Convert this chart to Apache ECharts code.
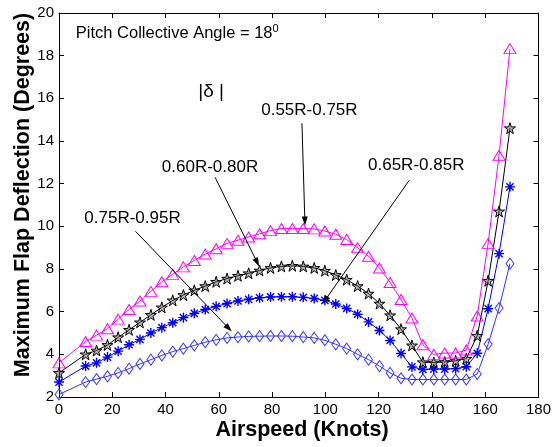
<!DOCTYPE html>
<html>
<head>
<meta charset="utf-8">
<script src="https://cdn.jsdelivr.net/npm/echarts@6/dist/echarts.min.js"></script>
<style>
  html, body { margin: 0; padding: 0; background: #fff; }
  #chart { width: 554px; height: 447px; }
</style>
</head>
<body>
<div id="chart"></div>
<script>
// Airspeed samples (knots)
const airspeed = [0, 10, 14.1, 18.2, 22.2, 26.3, 30.4, 34.5, 38.6, 42.7, 46.7, 50.8, 54.9, 59.0, 63.1, 67.2, 71.2, 75.3, 79.4,
  83.5, 87.6, 91.7, 95.8, 99.8, 103.9, 108.0, 112.1, 116.2, 120.3, 124.3, 128.4, 132.5, 136.6, 140.7, 144.8, 148.9, 152.9,
  157.0, 161.1, 165.2, 169.3];

// Maximum flap deflection |delta| (degrees) for each flap span location
const flap055_075 = [3.6, 4.6, 4.9, 5.2, 5.65, 6.1, 6.5, 6.95, 7.4, 7.75, 8.1, 8.4, 8.7, 8.95, 9.2, 9.35, 9.5, 9.65, 9.8,
  9.9, 9.9, 9.9, 9.88, 9.78, 9.63, 9.38, 9.0, 8.6, 8.05, 7.37, 6.57, 5.7, 4.45, 4.0, 4.06, 4.06, 4.2, 5.8, 9.2, 13.33, 18.33];
const flap060_080 = [3.13, 4.0, 4.18, 4.44, 4.8, 5.15, 5.5, 5.85, 6.2, 6.53, 6.78, 7.0, 7.2, 7.4, 7.55, 7.68, 7.8, 7.93, 8.05,
  8.12, 8.15, 8.12, 8.05, 7.92, 7.72, 7.5, 7.2, 6.85, 6.38, 5.83, 5.18, 4.42, 3.63, 3.62, 3.64, 3.7, 3.8, 4.87, 7.45, 10.7, 14.6];
const flap065_085 = [2.7, 3.45, 3.6, 3.87, 4.15, 4.45, 4.7, 5.0, 5.25, 5.48, 5.72, 5.92, 6.1, 6.25, 6.38, 6.5, 6.58, 6.65, 6.69,
  6.7, 6.7, 6.67, 6.62, 6.53, 6.36, 6.15, 5.88, 5.52, 5.12, 4.65, 4.04, 3.41, 3.29, 3.31, 3.31, 3.33, 3.42, 4.05, 6.14, 8.72, 11.85];
const flap075_095 = [2.12, 2.7, 2.84, 2.97, 3.13, 3.33, 3.55, 3.75, 3.95, 4.13, 4.27, 4.42, 4.57, 4.68, 4.77, 4.81, 4.84, 4.85, 4.86,
  4.86, 4.85, 4.81, 4.77, 4.66, 4.47, 4.27, 4.0, 3.75, 3.45, 3.13, 2.88, 2.82, 2.82, 2.82, 2.82, 2.82, 2.82, 3.08, 4.48, 6.17, 8.25];

// Axis ticks
const xTicks = { min: 0, max: 180, step: 20 };
const yTicks = { min: 2, max: 20, step: 2 };

// Annotation labels, placed in data coordinates: [text, x, y]
const labelNotes = [
  ['0.55R-0.75R', 94.0, 15.44],
  ['0.60R-0.80R', 56.7, 12.77],
  ['0.65R-0.85R', 134.1, 12.86],
  ['0.75R-0.95R', 27.6, 10.38]
];
// Leader arrows: [x1, y1, x2 (tip), y2 (tip)]
const arrowNotes = [
  [91.2, 14.83, 92.3, 10.25],
  [58.6, 12.3, 74.4, 8.31],
  [131.5, 12.16, 99.85, 6.53],
  [28.7, 9.77, 63.7, 5.22]
];

const FONT = '"Liberation Sans", Arial, Helvetica, sans-serif';
const pair = arr => airspeed.map((x, i) => [x, arr[i]]);

const STAR = 'path://M0,-1L0.2245,-0.309L0.951,-0.309L0.363,0.118L0.588,0.809L0,0.382L-0.588,0.809L-0.363,0.118L-0.951,-0.309L-0.2245,-0.309Z';
const ASTER = 'path://M0,-1L0,1M-1,0L1,0M-0.72,-0.72L0.72,0.72M-0.72,0.72L0.72,-0.72';

function axisX(pos, showLabel) {
  return {
    type: 'value', position: pos, min: xTicks.min, max: xTicks.max, interval: xTicks.step,
    axisLine: { show: true, onZero: false, lineStyle: { color: '#000', width: 1 } },
    axisTick: { show: true, inside: true, length: 5, lineStyle: { color: '#000' } },
    axisLabel: { show: showLabel, color: '#000', fontSize: 15, fontFamily: FONT, margin: 5 },
    splitLine: { show: false }
  };
}
function axisY(pos, showLabel) {
  return {
    type: 'value', position: pos, min: yTicks.min, max: yTicks.max, interval: yTicks.step,
    axisLine: { show: true, onZero: false, lineStyle: { color: '#000', width: 1 } },
    axisTick: { show: true, inside: true, length: 5, lineStyle: { color: '#000' } },
    axisLabel: { show: showLabel, color: '#000', fontSize: 15, fontFamily: FONT, margin: 5 },
    splitLine: { show: false }
  };
}

function lineSeries(name, data, color, symbol, size, fill, bw) {
  return {
    name, type: 'line', data: pair(data), xAxisIndex: 0, yAxisIndex: 0,
    symbol, symbolSize: size, showAllSymbol: true,
    lineStyle: { color, width: 1 },
    itemStyle: { color: fill, borderColor: color, borderWidth: bw },
    emphasis: { disabled: true }
  };
}

const chart = echarts.init(document.getElementById('chart'), null, { renderer: 'canvas' });

const option = {
  animation: false,
  backgroundColor: '#fff',
  grid: { left: 59, top: 13, width: 489, height: 384, containLabel: false },
  xAxis: [axisX('bottom', true), axisX('top', false)],
  yAxis: [axisY('left', true), axisY('right', false)],
  series: [
    lineSeries('0.75R-0.95R', flap075_095, '#3434ff', 'diamond', [8, 11], 'rgba(0,0,0,0)', 1),
    lineSeries('0.65R-0.85R', flap065_085, '#0000ff', ASTER, 10, 'rgba(0,0,0,0)', 1.4),
    lineSeries('0.60R-0.80R', flap060_080, '#000000', STAR, 11, 'rgba(90,90,90,0.45)', 1),
    Object.assign(lineSeries('0.55R-0.75R', flap055_075, '#ff00ff', 'triangle', [12, 10], 'rgba(0,0,0,0)', 1), {
      markLine: {
        silent: true,
        symbol: ['none', 'triangle'],
        symbolSize: [6, 9],
        lineStyle: { color: '#000', width: 1, type: 'solid' },
        label: { show: false },
        emphasis: { disabled: true },
        data: arrowNotes.map(a => [{ coord: [a[0], a[1]] }, { coord: [a[2], a[3]] }])
      }
    })
  ]
};
chart.setOption(option);

// Text annotations and axis titles
const toPx = (x, y) => chart.convertToPixel({ gridIndex: 0 }, [x, y]);
const graphics = [];

const pitchPos = toPx(6.3, 19.05);
graphics.push({
  type: 'text', x: pitchPos[0], y: pitchPos[1],
  style: {
    text: '{a|Pitch Collective Angle = 18}{s|0}',
    rich: {
      a: { fontSize: 16.5, fontFamily: FONT, fill: '#000', color: '#000' },
      s: { fontSize: 11, fontFamily: FONT, fill: '#000', color: '#000', verticalAlign: 'top', padding: [0, 0, 8, 0] }
    },
    align: 'left', verticalAlign: 'middle', textAlign: 'left', textVerticalAlign: 'middle'
  }
});

const deltaPos = toPx(57.1, 16.33);
graphics.push({
  type: 'text', x: deltaPos[0], y: deltaPos[1],
  style: {
    text: '|δ |', font: '19px ' + FONT, fill: '#000',
    align: 'center', verticalAlign: 'middle', textAlign: 'center', textVerticalAlign: 'middle'
  }
});

labelNotes.forEach(n => {
  const p = toPx(n[1], n[2]);
  graphics.push({
    type: 'text', x: p[0], y: p[1],
    style: {
      text: n[0], font: '17px ' + FONT, fill: '#000',
      align: 'center', verticalAlign: 'middle', textAlign: 'center', textVerticalAlign: 'middle'
    }
  });
});

graphics.push({
  type: 'text', x: 302, y: 430,
  style: {
    text: 'Airspeed (Knots)', font: 'bold 21.5px ' + FONT, fill: '#000',
    align: 'center', verticalAlign: 'middle', textAlign: 'center', textVerticalAlign: 'middle'
  }
});
graphics.push({
  type: 'text', x: 23, y: 195, rotation: Math.PI / 2,
  style: {
    text: 'Maximum Flap Deflection (Degrees)', font: 'bold 21.5px ' + FONT, fill: '#000',
    align: 'center', verticalAlign: 'middle', textAlign: 'center', textVerticalAlign: 'middle'
  }
});

chart.setOption({ graphic: graphics });
</script>
</body>
</html>
